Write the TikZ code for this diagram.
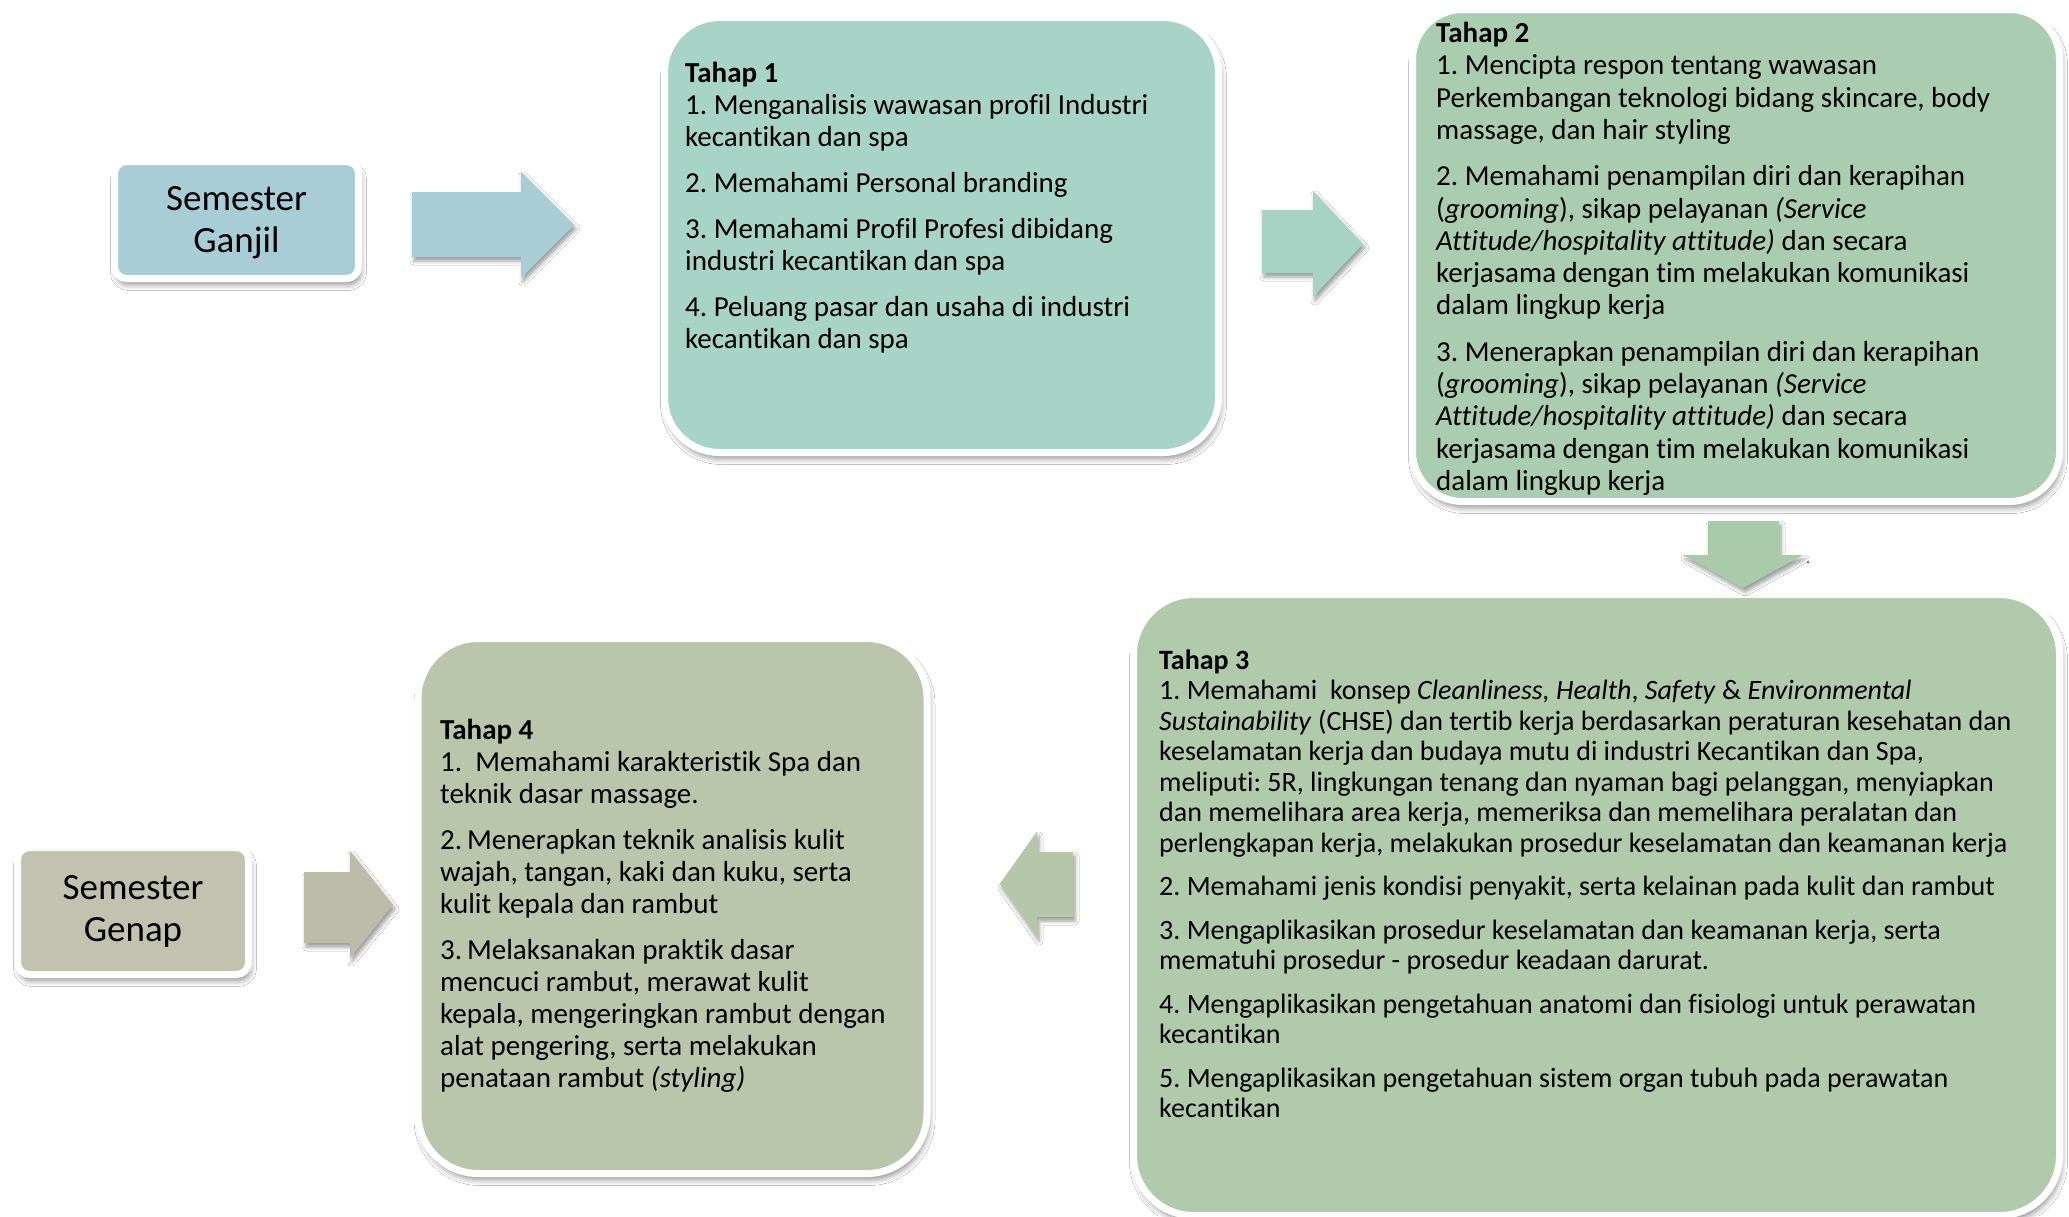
\documentclass[tikz,border=0pt]{standalone}
\usepackage{fontspec}
\setmainfont{Carlito}[Ligatures={NoCommon,NoContextual}]
\frenchspacing
\usetikzlibrary{shadows.blur}
\definecolor{cBlue}{HTML}{A9CDD6}
\definecolor{cMint}{HTML}{A8D3C7}
\definecolor{cMintA}{HTML}{A6D3C4}
\definecolor{cGreen}{HTML}{AACDB2}
\definecolor{cGreenA}{HTML}{AACBAA}
\definecolor{cSage}{HTML}{B0CAAB}
\definecolor{cSageA}{HTML}{B6C6A8}
\definecolor{cOlive}{HTML}{BBC5AB}
\definecolor{cGrey}{HTML}{C3C2B1}
\definecolor{cGreyA}{HTML}{BDBBA9}
\begin{document}
\begin{tikzpicture}[x=1pt,y=-1pt,
  panel/.style={rectangle, draw=white, line width=7pt, inner sep=0pt, outer sep=0pt,
    blur shadow={shadow xshift=2pt, shadow yshift=-6pt, shadow blur radius=6pt, shadow blur steps=6, shadow opacity=45}},
  txt/.style={anchor=north west, inner sep=0pt, align=left, font=\fontsize{29}{32}\selectfont},
  sem/.style={align=center, inner sep=0pt, font=\fontsize{37}{42}\selectfont},
  blk/.style={blur shadow={shadow xshift=2pt, shadow yshift=-4pt, shadow blur radius=4pt, shadow blur steps=5, shadow opacity=40}}]
\useasboundingbox (0,0) rectangle (2069,1216);
\fill[white] (0,0) rectangle (2069,1216);

% panels
\node[panel, fill=cBlue, rounded corners=12pt, minimum width=244pt, minimum height=117pt] (sg) at (236.5,220) {};
\node[panel, fill=cMint, rounded corners=55pt, minimum width=554pt, minimum height=435pt] (t1) at (941.5,235) {};
\node[panel, fill=cGreen, rounded corners=50pt, minimum width=647pt, minimum height=492pt] (t2) at (1736,255.5) {};
\node[panel, fill=cSage, rounded corners=60pt, minimum width=926pt, minimum height=621pt] (t3) at (1596.5,905) {};
\node[panel, fill=cOlive, rounded corners=60pt, minimum width=509pt, minimum height=535pt] (t4) at (672.5,906) {};
\node[panel, fill=cGrey, rounded corners=12pt, minimum width=231pt, minimum height=127pt] (sge) at (133,911) {};

% block arrows
\fill[cBlue, blk] (412,192) -- (521,192) -- (521,172) -- (574,225) -- (521,278) -- (521,257) -- (412,257) -- cycle;
\fill[cMintA, blk] (1262,210) -- (1313,210) -- (1313,191) -- (1363,244) -- (1313,297) -- (1313,273) -- (1262,273) -- cycle;
\fill[cGreenA, blk] (1708,521) -- (1779,521) -- (1779,555) -- (1803,555) -- (1743,588) -- (1683,555) -- (1708,555) -- cycle;
\fill[cSageA, blk] (1073,852) -- (1037,852) -- (1037,832) -- (1000,884) -- (1037,937) -- (1037,917) -- (1073,917) -- cycle;
\fill[cGreyA, blk] (304,872) -- (350,872) -- (350,851) -- (393,905) -- (350,958) -- (350,943) -- (304,943) -- cycle;
\node[inner sep=0pt, font=\fontsize{14}{14}\selectfont] (dot) at (1808,563) {.};

% texts
\node[sem] (sgtxt) at (236.5,223) {Semester\\Ganjil};
\node[sem] (sgetxt) at (sge) {Semester\\Genap};

\node[txt] (t1txt) at (685,62) {\rule{0pt}{20pt}\textbf{Tahap 1}\\
1. Menganalisis wawasan profil Industri\\
kecantikan dan spa\\[14pt]
2. Memahami Personal branding\\[14pt]
3. Memahami Profil Profesi dibidang\\
industri kecantikan dan spa\\[14pt]
4. Peluang pasar dan usaha di industri\\
kecantikan dan spa};

\node[txt, font=\fontsize{29}{32.3}\selectfont] (t2txt) at (1436,22) {\rule{0pt}{20pt}\textbf{Tahap 2}\\
1. Mencipta respon tentang wawasan\\
Perkembangan teknologi bidang skincare, body\\
massage, dan hair styling\\[14pt]
2. Memahami penampilan diri dan kerapihan\\
(\textit{grooming}), sikap pelayanan \textit{(Service}\\
\textit{Attitude/hospitality attitude)} dan secara\\
kerjasama dengan tim melakukan komunikasi\\
dalam lingkup kerja\\[14pt]
3. Menerapkan penampilan diri dan kerapihan\\
(\textit{grooming}), sikap pelayanan \textit{(Service}\\
\textit{Attitude/hospitality attitude)} dan secara\\
kerjasama dengan tim melakukan komunikasi\\
dalam lingkup kerja};

\node[txt, font=\fontsize{28}{30.5}\selectfont] (t3txt) at (1159,649) {\rule{0pt}{20pt}\textbf{Tahap 3}\\
1. Memahami\ \ konsep \textit{Cleanliness, Health}, \textit{Safety} \& \textit{Environmental}\\
\textit{Sustainability} (CHSE) dan tertib kerja berdasarkan peraturan kesehatan dan\\
keselamatan kerja dan budaya mutu di industri Kecantikan dan Spa,\\
meliputi: 5R, lingkungan tenang dan nyaman bagi pelanggan, menyiapkan\\
dan memelihara area kerja, memeriksa dan memelihara peralatan dan\\
perlengkapan kerja, melakukan prosedur keselamatan dan keamanan kerja\\[13pt]
2. Memahami jenis kondisi penyakit, serta kelainan pada kulit dan rambut\\[13pt]
3. Mengaplikasikan prosedur keselamatan dan keamanan kerja, serta\\
mematuhi prosedur - prosedur keadaan darurat.\\[13pt]
4. Mengaplikasikan pengetahuan anatomi dan fisiologi untuk perawatan\\
kecantikan\\[13pt]
5. Mengaplikasikan pengetahuan sistem organ tubuh pada perawatan\\
kecantikan};

\node[txt] (t4txt) at (440,719) {\rule{0pt}{20pt}\textbf{Tahap 4}\\
1.\ \ Memahami karakteristik Spa dan\\
teknik dasar massage.\\[14pt]
2.\,Menerapkan teknik analisis kulit\\
wajah, tangan, kaki dan kuku, serta\\
kulit kepala dan rambut\\[14pt]
3.\,Melaksanakan praktik dasar\\
mencuci rambut, merawat kulit\\
kepala, mengeringkan rambut dengan\\
alat pengering, serta melakukan\\
penataan rambut \textit{(styling)}};
\end{tikzpicture}
\end{document}
